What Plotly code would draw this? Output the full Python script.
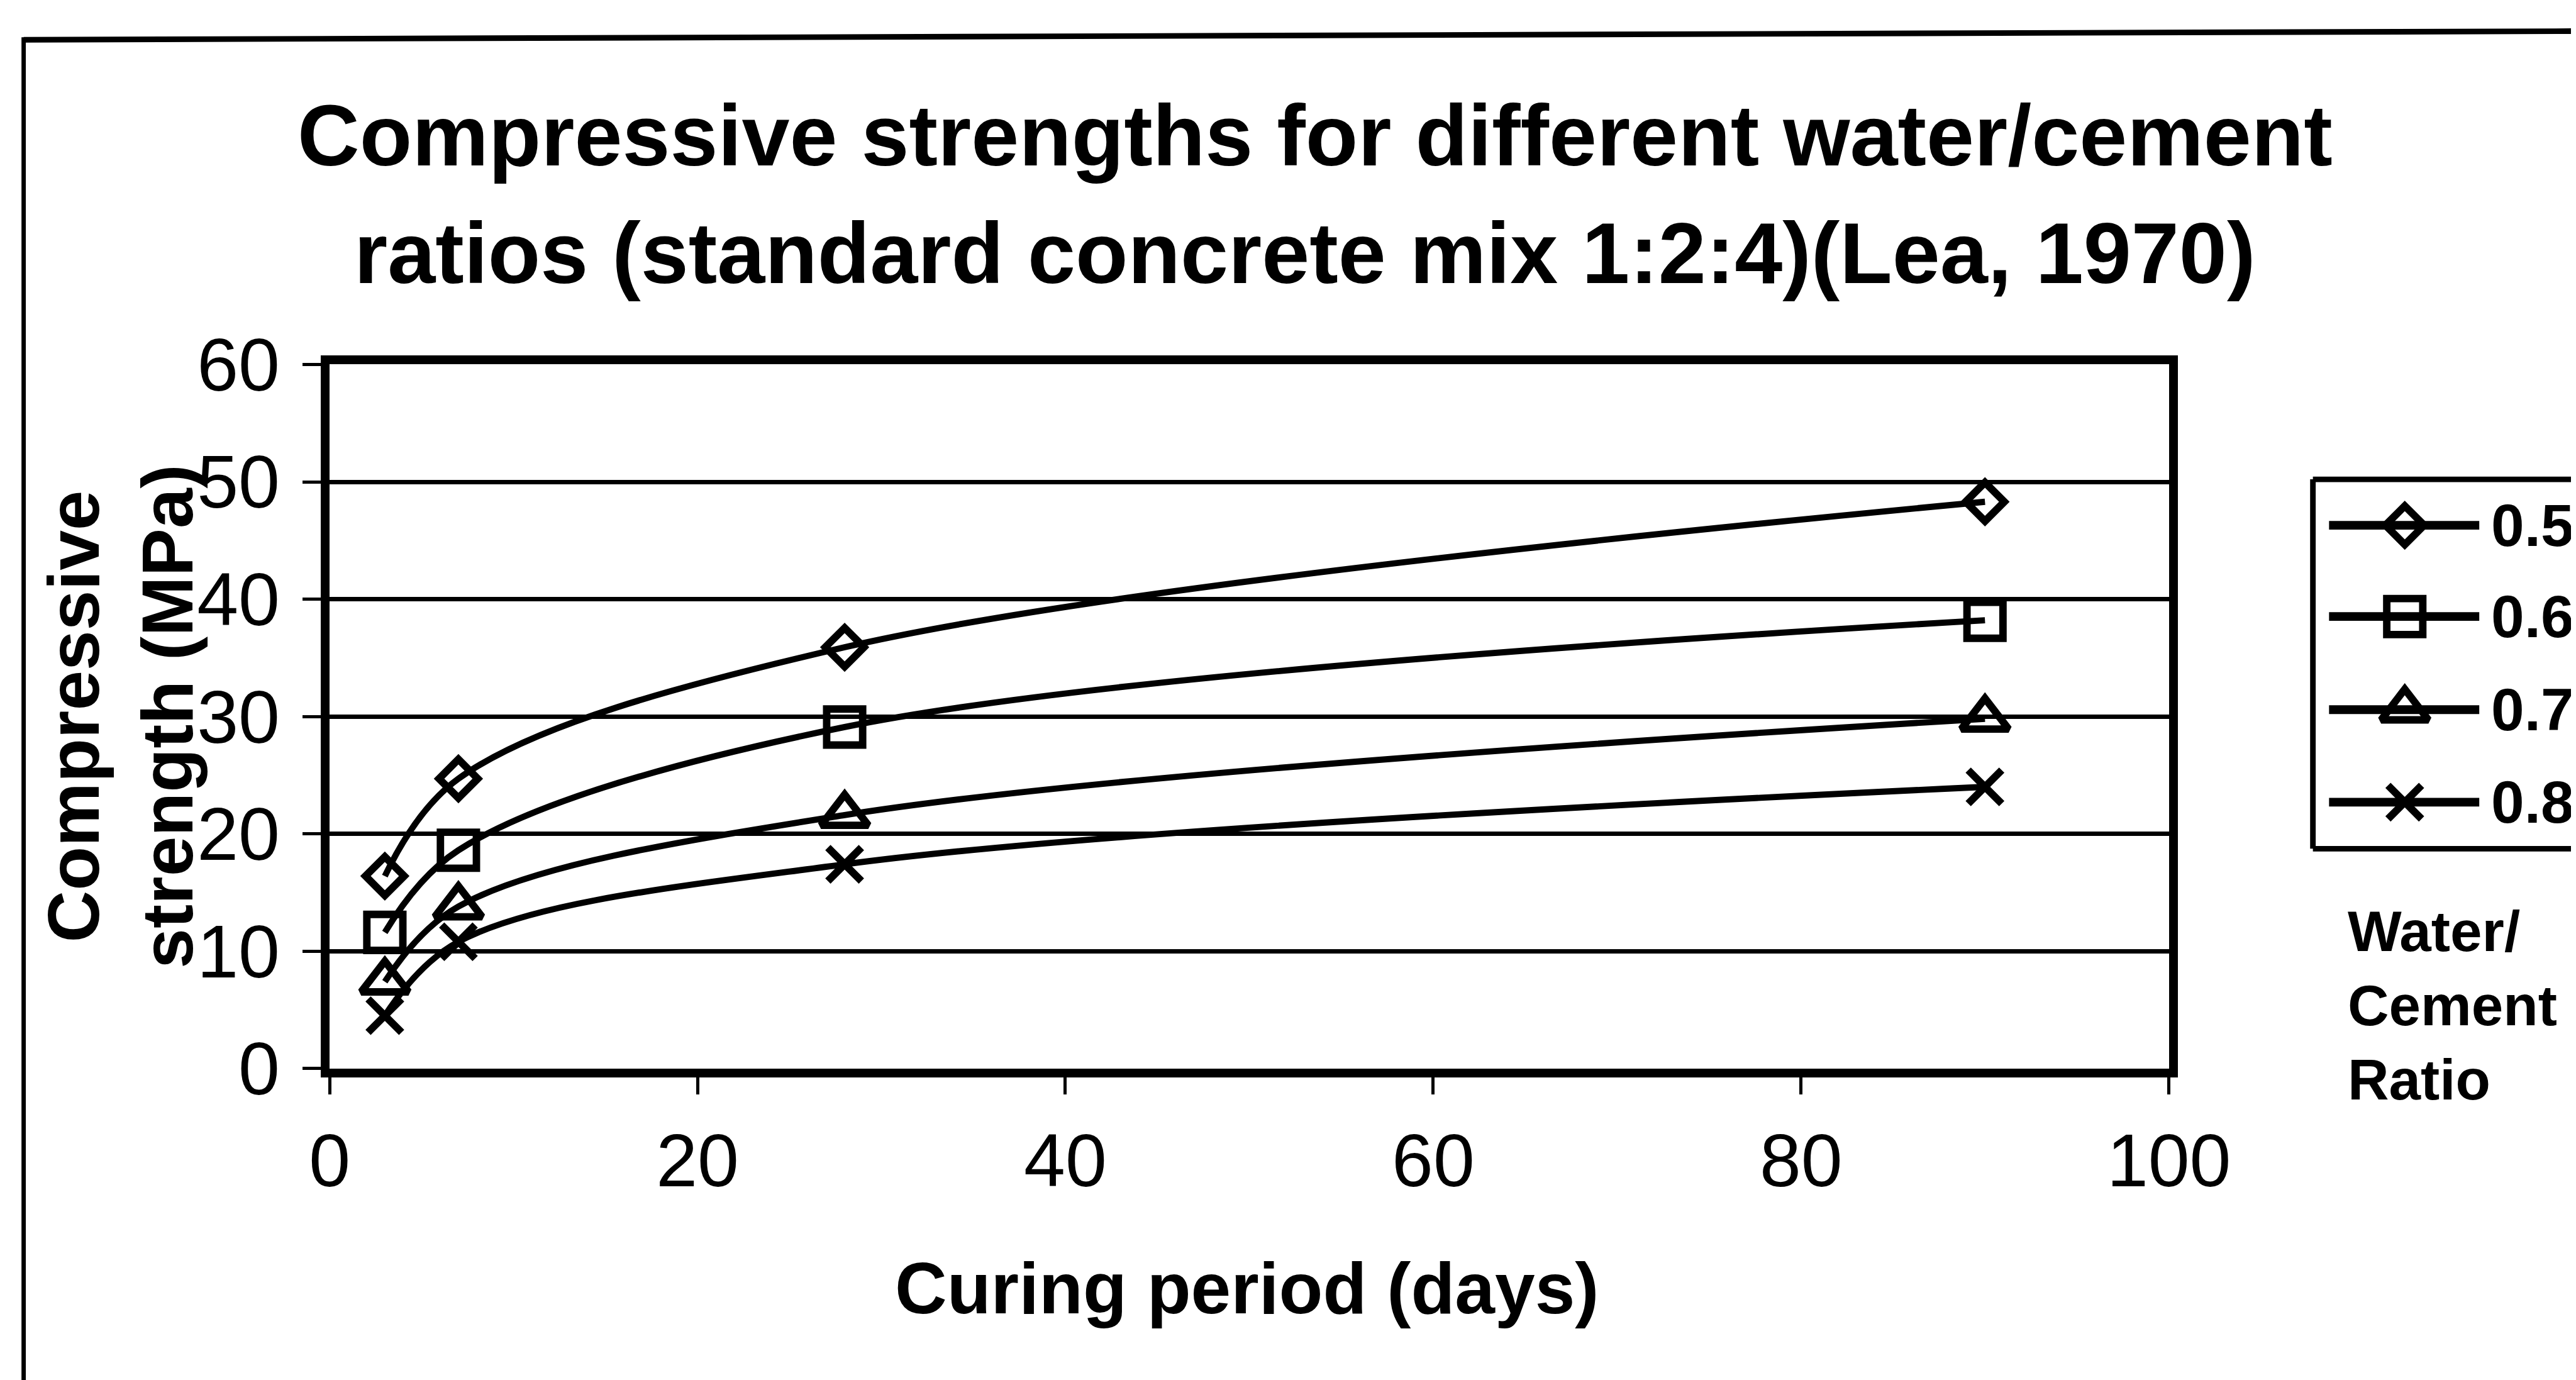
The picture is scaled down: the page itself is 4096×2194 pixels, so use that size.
import plotly.graph_objects as go

# ---------------- data ----------------
days = [3, 7, 28, 90]
ratios = ["0.5", "0.6", "0.7", "0.8"]
strength_05 = [16.4, 24.7, 35.9, 48.3]
strength_06 = [11.6, 18.6, 29.1, 38.2]
strength_07 = [7.4, 13.8, 21.6, 29.8]
strength_08 = [4.5, 10.8, 17.4, 24.0]
x_ticks = [0, 20, 40, 60, 80, 100]
y_ticks = [0, 10, 20, 30, 40, 50, 60]

title_line1 = "Compressive strengths for different water/cement"
title_line2 = "ratios (standard concrete mix 1:2:4)(Lea, 1970)"
x_title = "Curing period (days)"
y_title = "Compressive<br>strength (MPa)"
legend_title = "Water/<br>Cement<br>Ratio"

# ---------------- layout constants ----------------
W, H = 4096, 2194
S = 0.987  # scale from reference pixels
FONT = "Liberation Sans, Arial, sans-serif"


def p(v):
    return v * S


series = [
    (strength_05, "diamond-open", p(48)),
    (strength_06, "square-open", p(58)),
    (strength_07, "triangle-up-open", p(66)),
    (strength_08, "x-thin-open", p(54)),
]

# plot area in reference pixels
X0, X1 = 523, 3486
YT, YB = 579, 1713

fig = go.Figure()

for (vals, sym, size), name in zip(series, ratios):
    fig.add_trace(go.Scatter(
        x=days, y=vals, name=name, mode="lines+markers",
        line=dict(color="black", width=p(10), shape="spline", smoothing=1.0),
        marker=dict(symbol=sym, size=size, color="black",
                    line=dict(color="black", width=p(12))),
        showlegend=False, cliponaxis=False,
    ))

# ---------- legend drawn on an overlay pixel axis ----------
leg_rows = [838, 985, 1135, 1284]
for (vals, sym, size), name, ry in zip(series, ratios, leg_rows):
    fig.add_trace(go.Scatter(
        x=[p(3744), p(3986)], y=[p(ry), p(ry)], mode="lines",
        line=dict(color="black", width=p(14)),
        xaxis="x2", yaxis="y2", showlegend=False, hoverinfo="skip"))
    fig.add_trace(go.Scatter(
        x=[p(3866)], y=[p(ry)], mode="markers",
        marker=dict(symbol=sym, size=size, color="black",
                    line=dict(color="black", width=p(12))),
        xaxis="x2", yaxis="y2", showlegend=False, hoverinfo="skip"))

annotations = []


def ann(text, x, y, size, bold=False, xanchor="center", yanchor="middle",
        angle=0, align="center"):
    annotations.append(dict(
        text=text, x=p(x), y=p(y), xref="x2", yref="y2", showarrow=False,
        xanchor=xanchor, yanchor=yanchor, textangle=angle, align=align,
        font=dict(family=FONT, size=p(size), color="black",
                  weight="bold" if bold else "normal")))


ann(title_line1, 2110, 210, 138.5, bold=True)
ann(title_line2, 2094, 400, 138.5, bold=True)
ann(x_title, 2000, 2067, 116, bold=True)
ann(y_title, 186, 1146, 116, bold=True, angle=-90)
for name, ry in zip(ratios, leg_rows):
    ann(name, 4003, ry, 96, bold=True, xanchor="left")
ann(legend_title, 3772, 1611, 92, bold=True, xanchor="left", align="left")

LW = p(9)
shapes = [
    # legend box: left, top, bottom edges (the right edge is off the picture)
    dict(type="line", xref="x2", yref="y2", x0=p(3718), x1=p(3718),
         y0=p(764), y1=p(1359), line=dict(color="black", width=LW)),
    dict(type="line", xref="x2", yref="y2", x0=p(3718), x1=W,
         y0=p(764), y1=p(764), line=dict(color="black", width=LW)),
    dict(type="line", xref="x2", yref="y2", x0=p(3718), x1=W,
         y0=p(1359), y1=p(1359), line=dict(color="black", width=LW)),
    # outer frame (left and top visible)
    dict(type="line", xref="x2", yref="y2", x0=p(30), x1=p(30),
         y0=p(52), y1=H, line=dict(color="black", width=p(7))),
    dict(type="line", xref="x2", yref="y2", x0=p(30), x1=W,
         y0=p(56), y1=p(42), line=dict(color="black", width=p(9))),
]

fig.update_layout(
    width=W, height=H, autosize=False,
    margin=dict(l=0, r=0, t=0, b=0, pad=0, autoexpand=False),
    paper_bgcolor="white", plot_bgcolor="rgba(0,0,0,0)",
    font=dict(family=FONT, color="black"),
    xaxis=dict(
        domain=[p(X0) / W, p(X1) / W], range=[0, 100],
        tickvals=x_ticks, ticktext=[str(v) for v in x_ticks],
        showline=True, linecolor="black", linewidth=p(14), mirror=True,
        ticks="outside", ticklen=p(28), tickwidth=p(5), tickcolor="black",
        showgrid=False, zeroline=False, automargin=False,
        tickfont=dict(family=FONT, size=p(120), color="black"),
        ticklabelstandoff=4, anchor="y",
    ),
    yaxis=dict(
        domain=[1 - p(YB) / H, 1 - p(YT) / H], range=[0, 60],
        tickvals=y_ticks, ticktext=[str(v) for v in y_ticks],
        showline=True, linecolor="black", linewidth=p(14), mirror=True,
        ticks="outside", ticklen=p(30), tickwidth=p(5), tickcolor="black",
        showgrid=True, gridcolor="black", gridwidth=p(7), zeroline=False,
        automargin=False,
        tickfont=dict(family=FONT, size=p(120), color="black"),
        ticklabelstandoff=12, anchor="x",
    ),
    xaxis2=dict(domain=[0, 1], range=[0, W], visible=False, anchor="y2",
                fixedrange=True, automargin=False),
    yaxis2=dict(domain=[0, 1], range=[H, 0], visible=False, anchor="x2",
                fixedrange=True, automargin=False),
    annotations=annotations,
    shapes=shapes,
    showlegend=False,
)

fig.write_html("out.html")
